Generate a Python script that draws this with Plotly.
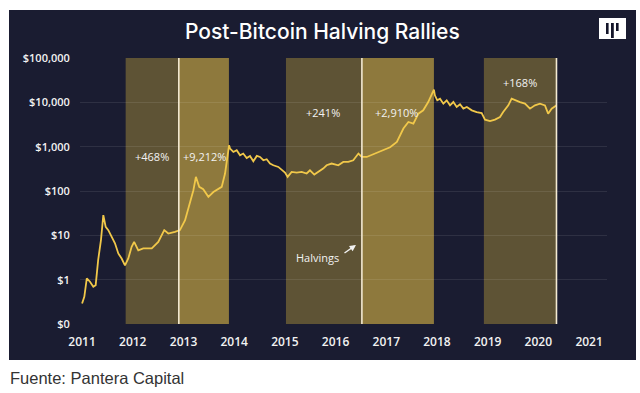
import plotly.graph_objects as go

# ---- data ----
dates = [
    "2011-01-01", "2011-01-17", "2011-02-04", "2011-02-27", "2011-03-23", "2011-04-09",
    "2011-04-27", "2011-05-17", "2011-06-03", "2011-06-20", "2011-07-09", "2011-08-02",
    "2011-08-26", "2011-09-19", "2011-10-13", "2011-11-06", "2011-11-30", "2011-12-24",
    "2012-01-11", "2012-02-10", "2012-03-17", "2012-05-17", "2012-07-03", "2012-08-15",
    "2012-09-13", "2012-10-31", "2012-12-06", "2013-01-12", "2013-02-17", "2013-03-13",
    "2013-03-31", "2013-04-24", "2013-05-23", "2013-06-29", "2013-08-04", "2013-09-09",
    "2013-10-03", "2013-10-27", "2013-11-15", "2013-11-25",
    "2013-12-02", "2013-12-26", "2014-01-19", "2014-02-12", "2014-03-07", "2014-04-01",
    "2014-04-25", "2014-05-19", "2014-06-13", "2014-07-06", "2014-07-30", "2014-08-23",
    "2014-09-16", "2014-10-10", "2014-11-15", "2014-12-09", "2015-01-02", "2015-01-21",
    "2015-02-19", "2015-03-27", "2015-05-02", "2015-06-07", "2015-07-01", "2015-08-01",
    "2015-08-29", "2015-10-04", "2015-10-29", "2015-12-04", "2016-01-21", "2016-02-26",
    "2016-04-02", "2016-05-08", "2016-06-14", "2016-07-08",
    "2016-08-13", "2016-10-12", "2016-12-10", "2017-01-28", "2017-03-18", "2017-05-04",
    "2017-06-09", "2017-07-15", "2017-08-20", "2017-09-24", "2017-10-30", "2017-11-24",
    "2017-12-10",
    "2017-12-17", "2018-01-03", "2018-01-23", "2018-02-16", "2018-03-12", "2018-04-05",
    "2018-04-29", "2018-05-23", "2018-06-16", "2018-07-10", "2018-08-04", "2018-09-09",
    "2018-10-14", "2018-11-19", "2018-12-13", "2019-01-18", "2019-02-23", "2019-03-31",
    "2019-04-23", "2019-05-30", "2019-06-23", "2019-07-17", "2019-08-22", "2019-09-27",
    "2019-11-02", "2019-12-08", "2020-01-13", "2020-02-18", "2020-03-12", "2020-04-06",
    "2020-05-12",
]
prices = [
    0.29, 0.41, 1.07, 0.90, 0.69, 0.75,
    2.8, 7.8, 28.5, 15.5, 13.1, 9.3,
    6.6, 3.9, 3.0, 2.1, 3.0, 5.5,
    7.1, 4.6, 5.1, 5.1, 7.1, 13.1,
    11.0, 12.0, 13.1, 22, 52, 104,
    208, 124, 110, 74, 95, 114,
    124, 248, 700, 1075,
    906, 760, 830, 640, 700, 556,
    618, 469, 618, 586, 494, 520,
    416, 381, 349, 294, 261, 208,
    269, 261, 269, 248, 294, 235,
    269, 321, 381, 416, 381, 452,
    452, 494, 700, 586,
    586, 700, 830, 969, 1276, 2558,
    3600, 3311, 5560, 6600, 10160, 14380,
    19300,
    14380, 11100, 12110, 9350, 11100, 8550,
    10160, 7840, 9020, 7210, 7840, 6600,
    6050, 5740, 4075, 3790, 4075, 4670,
    6050, 8550, 12110, 11100, 10160, 9350,
    7210, 8550, 9350, 8550, 5560, 7210,
    8550,
]

halving_dates = ["2012-11-28", "2016-07-09", "2020-05-11"]
pre_halving_start = ["2011-11-11", "2015-01-09", "2018-12-05"]
post_halving_end = ["2013-11-24", "2017-12-10"]

rally_labels = ["+468%", "+9,212%", "+241%", "+2,910%", "+168%"]
rally_label_x = ["2012-05-19", "2013-05-29", "2015-10-02", "2017-03-12", "2019-08-21"]
rally_label_logy = [2.784, 2.784, 3.775, 3.775, 4.45]

year_ticks = [f"{y}-01-01" for y in range(2011, 2022)]
year_labels = [str(y) for y in range(2011, 2022)]
price_ticks = [0.1, 1, 10, 100, 1000, 10000, 100000]
price_labels = ["$0", "$1", "$10", "$100", "$1,000", "$10,000", "$100,000"]

# ---- styling ----
BG = "#1a1c31"
OLIVE = "#5e5335"
GOLD = "#8e793d"
LINE = "#f1c84a"
WHITE = "#f2f2f2"
FONT = "Open Sans"

W, H = 640, 393
L, R, T, B = 80, 33, 58, 69
PW, PH = W - L - R, H - T - B


def px(xp):
    return (xp - L) / PW


def py(yp):
    return (H - B - yp) / PH


fig = go.Figure()
fig.add_trace(go.Scatter(x=dates, y=prices, mode="lines",
                         line=dict(color=LINE, width=1.8), hoverinfo="skip"))

shapes = []
# dark panel
shapes.append(dict(type="rect", xref="paper", yref="paper",
                   x0=px(9), x1=px(636), y0=py(360), y1=py(10),
                   fillcolor=BG, line=dict(width=0), layer="below"))
# pre-halving bands
for s, e in zip(pre_halving_start, halving_dates):
    shapes.append(dict(type="rect", xref="x", yref="paper", x0=s, x1=e, y0=0, y1=1,
                       fillcolor=OLIVE, line=dict(width=0), layer="below"))
# post-halving bands
for s, e in zip(halving_dates[:2], post_halving_end):
    shapes.append(dict(type="rect", xref="x", yref="paper", x0=s, x1=e, y0=0, y1=1,
                       fillcolor=GOLD, line=dict(width=0), layer="below"))
# halving lines
for h in halving_dates:
    shapes.append(dict(type="line", xref="x", yref="paper", x0=h, x1=h, y0=0, y1=1,
                       line=dict(color="#f4ead2", width=1.6), layer="above"))
# logo
shapes.append(dict(type="rect", xref="paper", yref="paper",
                   x0=px(599), x1=px(626), y0=py(39), y1=py(18),
                   fillcolor="white", line=dict(width=0)))
for (bx0, bx1, by0, by1) in [(606, 608.6, 23, 34), (611, 613.8, 23, 38), (616, 618.6, 23, 31)]:
    shapes.append(dict(type="rect", xref="paper", yref="paper",
                       x0=px(bx0), x1=px(bx1), y0=py(by1), y1=py(by0),
                       fillcolor="#14152a", line=dict(width=0)))

annotations = []
for t, xv, yv in zip(rally_labels, rally_label_x, rally_label_logy):
    annotations.append(dict(x=xv, y=yv, xref="x", yref="y", text=t, showarrow=False,
                            xanchor="center", yanchor="middle",
                            font=dict(color=WHITE, size=11, family=FONT)))
annotations.append(dict(x=px(317), y=py(257), xref="paper", yref="paper", text="Halvings",
                        xanchor="center", yanchor="middle",
                        showarrow=False, font=dict(color=WHITE, size=11, family=FONT)))
annotations.append(dict(x=px(356), y=py(245), xref="paper", yref="paper", text="",
                        showarrow=True, ax=-13, ay=9, arrowhead=2, arrowsize=0.9,
                        arrowwidth=1.4, arrowcolor=WHITE))
annotations.append(dict(x=px(322), y=py(32), xref="paper", yref="paper",
                        text="Post-Bitcoin Halving Rallies", showarrow=False,
                        xanchor="center", yanchor="middle",
                        font=dict(color="white", size=21, family="Inter", weight=500)))
annotations.append(dict(x=px(8), y=py(378), xref="paper", yref="paper",
                        xanchor="left", yanchor="middle",
                        text="Fuente: Pantera Capital", showarrow=False,
                        font=dict(color="#333333", size=16.5, family="Liberation Sans")))

fig.update_layout(
    width=W, height=H,
    margin=dict(l=L, r=R, t=T, b=B),
    paper_bgcolor="white", plot_bgcolor="rgba(0,0,0,0)",
    showlegend=False,
    shapes=shapes, annotations=annotations,
    font=dict(family=FONT, color=WHITE),
    xaxis=dict(type="date", range=["2010-12-17", "2021-05-10"],
               tickvals=year_ticks, ticktext=year_labels,
               showgrid=False, zeroline=False, showline=False,
               ticks="outside", ticklen=7, tickcolor="rgba(0,0,0,0)",
               tickfont=dict(color=WHITE, size=12, family=FONT, weight=600)),
    yaxis=dict(type="log", range=[-1, 5],
               tickvals=price_ticks, ticktext=price_labels,
               showgrid=True, gridcolor="rgba(255,255,255,0.09)", gridwidth=1,
               zeroline=False, showline=False,
               ticks="outside", ticklen=7, tickcolor="rgba(0,0,0,0)",
               tickfont=dict(color=WHITE, size=11, family=FONT, weight=600)),
)

fig.write_html("out.html", config={"displayModeBar": False},
               post_script="document.body.style.margin='0';document.body.style.overflow='hidden';")
